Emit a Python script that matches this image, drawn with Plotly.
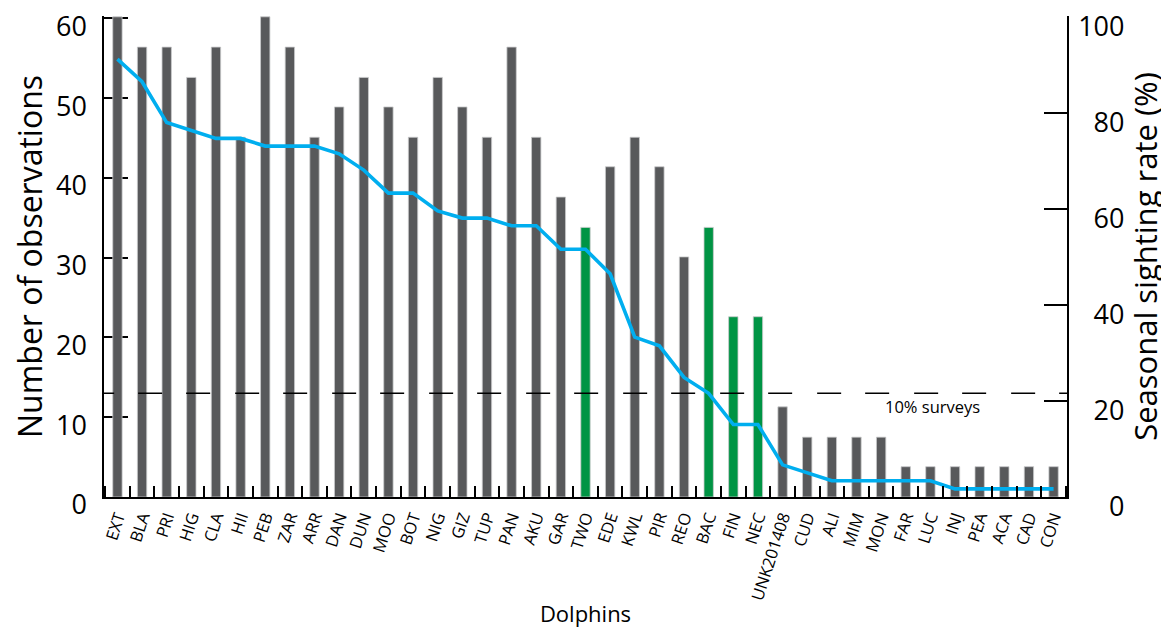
import plotly.graph_objects as go

dolphins = ["EXT", "BLA", "PRI", "HIG", "CLA", "HII", "PEB", "ZAR", "ARR", "DAN",
            "DUN", "MOO", "BOT", "NIG", "GIZ", "TUP", "PAN", "AKU", "GAR", "TWO",
            "EDE", "KWL", "PIR", "REO", "BAC", "FIN", "NEC", "UNK201408", "CUD", "ALI",
            "MIM", "MON", "FAR", "LUC", "INJ", "PEA", "ACA", "CAD", "CON"]

observations = [60.2, 56.4, 56.4, 52.6, 56.4, 45.1, 60.2, 56.4, 45.1, 48.9,
                52.6, 48.9, 45.1, 52.6, 48.9, 45.1, 56.4, 45.1, 37.6, 33.8,
                41.4, 45.1, 41.4, 30.1, 33.8, 22.6, 22.6, 11.3, 7.5, 7.5,
                7.5, 7.5, 3.8, 3.8, 3.8, 3.8, 3.8, 3.8, 3.8]

sighting_rate = [91.2, 86.5, 78.0, 76.3, 74.7, 74.7, 73.1, 73.1, 73.1, 71.5,
                 68.1, 63.3, 63.3, 59.6, 58.1, 58.1, 56.5, 56.5, 51.6, 51.6,
                 46.5, 33.3, 31.5, 24.9, 21.6, 15.1, 15.1, 6.7, 5.1, 3.4,
                 3.4, 3.4, 3.4, 3.4, 1.7, 1.7, 1.7, 1.7, 1.7]

highlighted = ["TWO", "BAC", "FIN", "NEC"]

threshold_obs = 13.0
threshold_label = "10% surveys"

left_ticks = [0, 10, 20, 30, 40, 50, 60]
right_ticks = [0, 20, 40, 60, 80, 100]

GRAY = "#58595b"
GREEN = "#009444"
BLUE = "#00aeef"
FONT = "Open Sans"

bar_colors = [GREEN if d in highlighted else GRAY for d in dolphins]

fig = go.Figure()
fig.add_trace(go.Bar(
    x=dolphins, y=observations, marker_color=bar_colors,
    marker_line=dict(color="#c9cacc", width=0.8), width=0.38,
    yaxis="y", showlegend=False))
fig.add_trace(go.Scatter(
    x=dolphins, y=sighting_rate, mode="lines",
    line=dict(color=BLUE, width=3.6), yaxis="y2", showlegend=False))

# dashed threshold line
dash_pattern = ",".join(["12px", "24px"] + ["24px", "24px", "24px", "25px"] * 11)
fig.add_shape(type="line", xref="x", yref="y", x0=-0.62, x1=38.55,
              y0=threshold_obs, y1=threshold_obs,
              line=dict(color="black", width=1.6, dash=dash_pattern), layer="above")
fig.add_annotation(x=33.1, y=11.3, xref="x", yref="y", text=threshold_label,
                   showarrow=False, font=dict(family=FONT, size=16.5, color="black"))

fs = "\u2007"
right_text = [(fs * (3 - len(str(v)))) + str(v) for v in right_ticks]

fig.update_layout(
    width=1161, height=621,
    margin=dict(l=96, r=102, t=8, b=132, autoexpand=False),
    paper_bgcolor="white", plot_bgcolor="white",
    font=dict(family=FONT, color="black"),
    xaxis=dict(
        type="category", range=[-0.545, 38.545], automargin=False,
        showline=True, linecolor="black", linewidth=2,
        ticks="inside", tickson="boundaries", ticklen=11, tickwidth=1.5, tickcolor="black",
        tickangle=-72, tickfont=dict(family=FONT, size=16.5, color="black"),
        ticklabelstandoff=2,
        showgrid=False, zeroline=False,
        title=dict(text="Dolphins", font=dict(family=FONT, size=22), standoff=4),
    ),
    yaxis=dict(
        range=[0, 60.3], tickvals=left_ticks, ticklabeloverflow="allow", automargin=False,
        showline=True, linecolor="black", linewidth=1.5,
        ticks="inside", ticklen=24, tickwidth=1.5, tickcolor="black",
        tickfont=dict(family=FONT, size=27, color="black"), ticklabelstandoff=10,
        ticklabelshift=8,
        showgrid=False, zeroline=False, layer="below traces",
        title=dict(text="Number of observations", font=dict(family=FONT, size=32), standoff=6),
    ),
    yaxis2=dict(
        overlaying="y", side="right", anchor="x", automargin=False,
        range=[0, 100.2], tickvals=right_ticks, ticktext=right_text, ticklabeloverflow="allow",
        showline=True, linecolor="black", linewidth=1.5,
        ticks="inside", ticklen=23, tickwidth=1.5, tickcolor="black",
        tickfont=dict(family=FONT, size=27, color="black"), ticklabelstandoff=4,
        ticklabelshift=10,
        showgrid=False, zeroline=False,
        title=dict(text="Seasonal sighting rate (%)", font=dict(family=FONT, size=31), standoff=12),
    ),
)

fig.write_html("out.html")
